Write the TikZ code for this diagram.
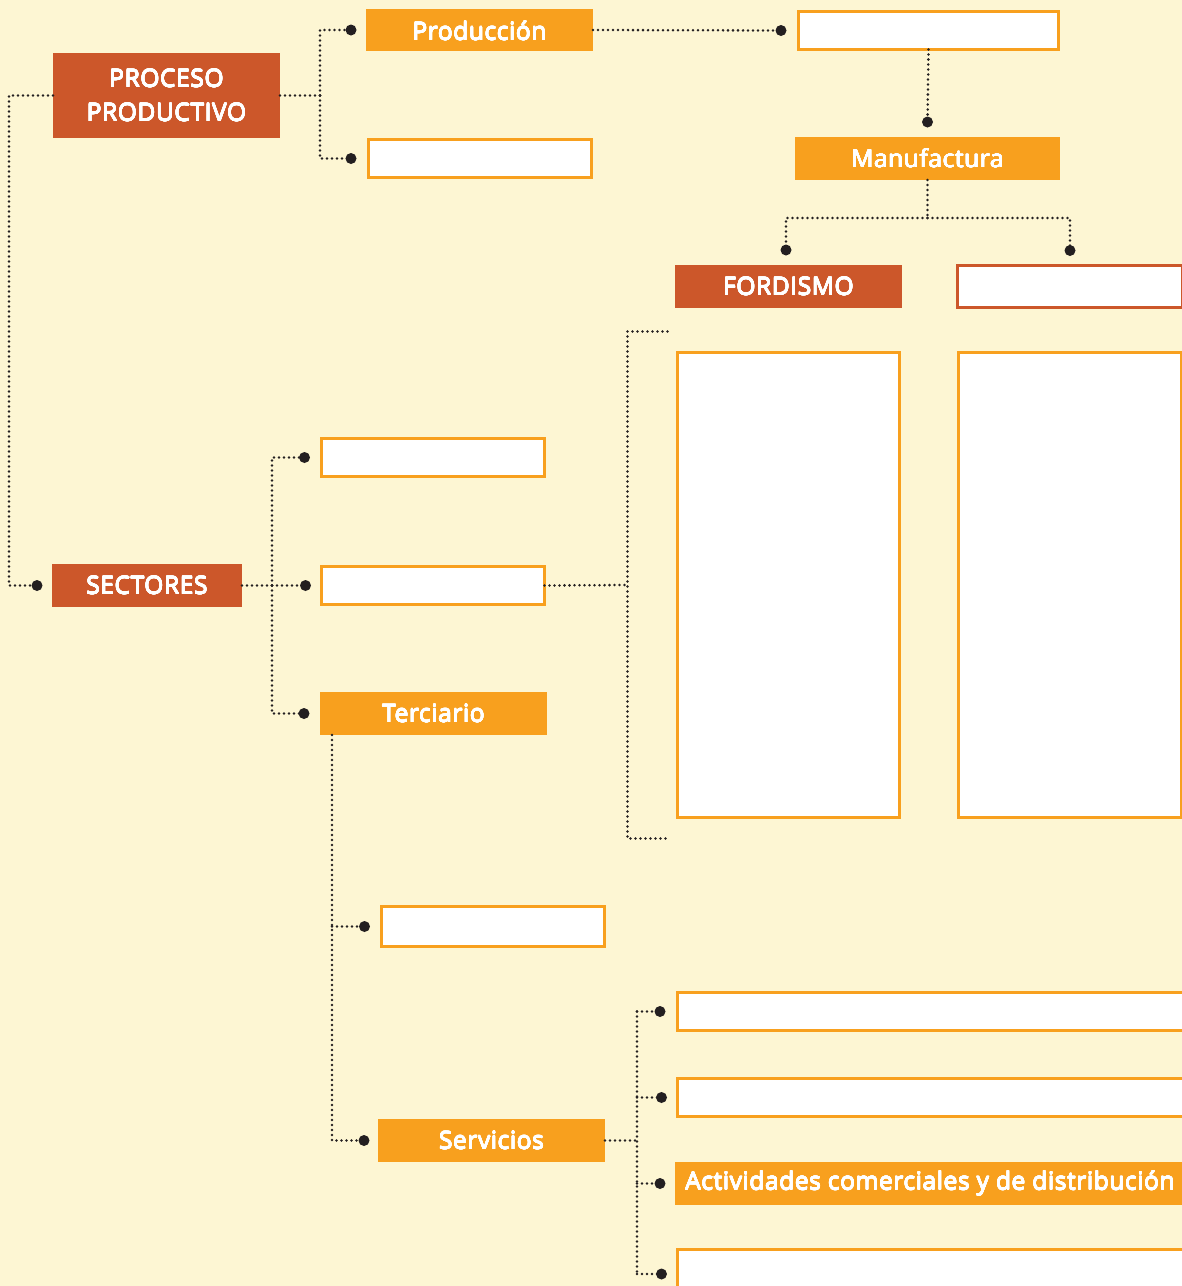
\documentclass[tikz,border=0pt]{standalone}
\usepackage{fontspec}
\setmainfont{Open Sans}[LetterSpace=2.5]
\usepackage{contour}
\contourlength{0.3pt}
\contournumber{16}
\usetikzlibrary{calc}
\definecolor{bg}{RGB}{253,246,211}
\definecolor{dorange}{RGB}{204,87,42}
\definecolor{lorange}{RGB}{248,160,30}
\definecolor{dotc}{RGB}{35,31,32}
\newcommand{\lb}[1]{\contour{white}{#1}}
\tikzset{
  dl/.style={line width=2.8pt, dash pattern=on 0pt off 5pt, line cap=round, color=dotc},
  ball/.style={circle, fill=dotc, draw=none, solid, inner sep=0pt, minimum size=11pt},
  base/.style={inner sep=0pt, outer sep=0pt, text=white, align=center,
    font=\fontsize{24.5}{34}\selectfont},
  redbox/.style={base, fill=dorange},
  orbox/.style={base, fill=lorange},
  blank/.style={base, fill=white, draw=lorange, line width=3pt},
  redblank/.style={base, fill=white, draw=dorange, line width=3pt},
}
\begin{document}
\begin{tikzpicture}[x=1pt,y=-1pt]
\fill[bg] (0,0) rectangle (1182,1286);
\useasboundingbox (0,0) rectangle (1182,1286);
\clip (0,0) rectangle (1182,1286);

% nodes
\node[redbox, minimum width=227pt, minimum height=85pt] (proc) at (166.5,95.5) {\lb{PROCESO}\\\lb{PRODUCTIVO}};
\node[orbox, minimum width=227pt, minimum height=42pt, text depth=0pt] (prod) at (479.5,30) {\raisebox{-1.5pt}{\lb{Producción}}};
\node[blank, minimum width=223pt, minimum height=38pt] (b1) at (480,158.5) {};
\node[blank, minimum width=260pt, minimum height=38pt] (tr) at (928.5,30.5) {};
\node[orbox, minimum width=265pt, minimum height=43pt] (manu) at (927.5,158.5) {\raisebox{-1.5pt}{\lb{Manufactura}}};
\node[redbox, minimum width=227pt, minimum height=43pt] (ford) at (788.5,286.5) {\raisebox{-1.5pt}{\lb{FORDISMO}}};
\node[redblank, minimum width=225pt, minimum height=42pt] (fr) at (1070,286.5) {};
\node[blank, minimum width=222pt, minimum height=465pt] (big1) at (788.5,585) {};
\node[blank, minimum width=223pt, minimum height=465pt] (big2) at (1069.5,585) {};
\node[redbox, minimum width=190pt, minimum height=43pt] (sect) at (147,585.5) {\raisebox{-1.5pt}{\lb{SECTORES}}};
\node[blank, minimum width=223pt, minimum height=38pt] (s1) at (433,457.5) {};
\node[blank, minimum width=223pt, minimum height=38pt] (s2) at (433,585.5) {};
\node[orbox, minimum width=227pt, minimum height=43pt] (terc) at (433.5,713.5) {\raisebox{-1.5pt}{\lb{Terciario}}};
\node[blank, minimum width=223pt, minimum height=40pt] (t1) at (493,926.5) {};
\node[orbox, minimum width=227pt, minimum height=43pt] (serv) at (491.5,1140.5) {\raisebox{-1.5pt}{\lb{Servicios}}};
\node[blank, minimum width=506pt, minimum height=38pt] (r1) at (930.5,1011.5) {};
\node[blank, minimum width=506pt, minimum height=38pt] (r2) at (930.5,1097.5) {};
\node[orbox, minimum width=510pt, minimum height=43pt] (act) at (930,1183.5) {\raisebox{-1.5pt}{\lb{Actividades comerciales y de distribución}}};
\node[blank, minimum width=506pt, minimum height=50pt] (r4) at (930.5,1274) {};

% connectors
\draw[dl] (proc.west) -- ++(-44,0) |- ([xshift=-15pt]sect.west) node[ball]{};
\draw[dl] (proc.east) -- ++(40,0) coordinate (j1);
\draw[dl] (j1) |- ([xshift=-15pt]prod.west) node[ball]{};
\draw[dl] (j1) |- ([xshift=-17.5pt]b1.west) node[ball]{};
\draw[dl] (prod.east) -- ([xshift=-17.5pt]tr.west) node[ball]{};
\draw[dl] (tr.south) -- ([yshift=15pt]manu.north) node[ball]{};
\draw[dl] (manu.south) -- ++(0,38) coordinate (j2);
\draw[dl] (j2) -| ([yshift=15pt,xshift=-2.5pt]ford.north) node[ball]{};
\draw[dl] (j2) -| ([yshift=15pt]fr.north) node[ball]{};
\draw[dl] (sect.east) -- ++(30,0) coordinate (j3);
\draw[dl] (j3) |- ([xshift=-17pt]s1.west) node[ball]{};
\draw[dl] (j3) -- ([xshift=-16pt]s2.west) node[ball]{};
\draw[dl] (j3) |- ([xshift=-16pt]terc.west) node[ball]{};
\coordinate (br) at ([xshift=-50pt]big1.west);
\draw[dl] (s2.east) -- (br);
\draw[dl] ([shift={(-10pt,21pt)}]big1.north west) -| ([shift={(-50pt,-21pt)}]big1.south west) -- ([shift={(-10pt,-21pt)}]big1.south west);
\coordinate (j4) at ([xshift=12pt]terc.south west);
\draw[dl] (j4) |- ([xshift=-14pt]serv.west) node[ball]{};
\draw[dl] (j4 |- t1.west) -- ([xshift=-17pt]t1.west) node[ball]{};
\draw[dl] (serv.east) -- ++(32,0) coordinate (j5);
\draw[dl] (j5 |- r1.west) -- ([xshift=-17.5pt]r1.west) node[ball]{};
\draw[dl] (j5 |- r1.west) -- (j5 |- r4.west);
\draw[dl] (j5 |- r2.west) -- ([xshift=-16pt]r2.west) node[ball]{};
\draw[dl] (j5 |- act.west) -- ([xshift=-15pt]act.west) node[ball]{};
\draw[dl] (j5 |- r4.west) -- ([xshift=-16pt]r4.west) node[ball]{};
\end{tikzpicture}
\end{document}
